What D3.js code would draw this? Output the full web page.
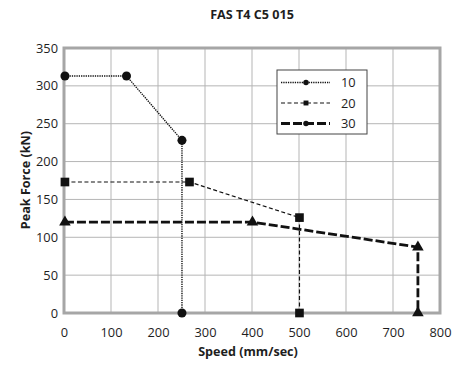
<!DOCTYPE html>
<html>
<head>
<meta charset="utf-8">
<script src="https://cdn.jsdelivr.net/npm/d3@7"></script>
<style>
body { margin: 0; background: #fff; }
text { font-family: "Open Sans", "Noto Sans", sans-serif; fill: #1e1e1e; }
</style>
</head>
<body>
<svg width="468" height="368"></svg>
<script>
// values
const xTicks = [0, 100, 200, 300, 400, 500, 600, 700, 800];
const yTicks = [0, 50, 100, 150, 200, 250, 300, 350];

const speed10 = [2, 133, 251, 251];
const force10 = [313, 313, 228, 0];
const speed20 = [2, 267, 501, 501];
const force20 = [173, 173, 126, 0];
const speed30 = [2, 401, 753, 753];
const force30 = [120, 120, 87, 0];

const seriesNames = ["10", "20", "30"];

const width = 468, height = 368;
const margin = {top: 48, right: 28, bottom: 55, left: 64};

var svg = d3.select("svg");

var x = d3.scaleLinear().domain([0, 800]).range([margin.left, width - margin.right]);
var y = d3.scaleLinear().domain([0, 350]).range([height - margin.bottom, margin.top]);

// grid
svg.append("g")
    .selectAll("line.vg")
    .data(xTicks.slice(1, -1))
    .enter()
    .append("line")
    .attr("x1", d => x(d)).attr("x2", d => x(d))
    .attr("y1", y(0)).attr("y2", y(350))
    .style("stroke", "#b5b5b5").style("stroke-width", 1);

svg.append("g")
    .selectAll("line.hg")
    .data(yTicks.slice(1, -1))
    .enter()
    .append("line")
    .attr("x1", x(0)).attr("x2", x(800))
    .attr("y1", d => y(d)).attr("y2", d => y(d))
    .style("stroke", "#b5b5b5").style("stroke-width", 1);

// frame
svg.append("rect")
    .attr("x", x(0)).attr("y", y(350))
    .attr("width", x(800) - x(0)).attr("height", y(0) - y(350))
    .style("fill", "none").style("stroke", "#a6a6a6").style("stroke-width", 3);

// axes (labels only)
var xAxis = svg.append("g")
    .attr("transform", "translate(0," + (y(0) + 11) + ")")
    .call(d3.axisBottom(x).tickValues(xTicks).tickSize(0).tickPadding(4));
var yAxis = svg.append("g")
    .attr("transform", "translate(" + (x(0) - 6) + ",0)")
    .call(d3.axisLeft(y).tickValues(yTicks).tickSize(0).tickPadding(0));
[xAxis, yAxis].forEach(function(a) {
    a.select(".domain").remove();
    a.selectAll("text").style("font-size", "12.8px").style("fill", "#1e1e1e");
});

// series
const series = [
    {name: seriesNames[0], xs: speed10, ys: force10, dash: "1.3,1", w: 1.4, shape: d3.symbolCircle, size: 64},
    {name: seriesNames[1], xs: speed20, ys: force20, dash: "4,2.5", w: 1.2, shape: d3.symbolSquare, size: 75},
    {name: seriesNames[2], xs: speed30, ys: force30, dash: "9,3", w: 2.8, shape: d3.symbolTriangle, size: 58}
];

var line = d3.line().x(d => x(d[0])).y(d => y(d[1]));

series.forEach(function(s) {
    let pts = s.xs.map((v, i) => [v, s.ys[i]]);
    svg.append("path")
        .datum(pts)
        .attr("d", line)
        .style("fill", "none")
        .style("stroke", "#111")
        .style("stroke-width", s.w)
        .style("stroke-dasharray", s.dash);
    svg.append("g")
        .selectAll("path")
        .data(pts)
        .enter()
        .append("path")
        .attr("transform", d => "translate(" + x(d[0]) + "," + y(d[1]) + ")")
        .attr("d", d3.symbol().type(s.shape).size(s.size))
        .style("fill", "#111");
});

// legend
var lg = svg.append("g").attr("transform", "translate(277,70)");
lg.append("rect")
    .attr("width", 90).attr("height", 64)
    .style("fill", "#fff").style("stroke", "#444").style("stroke-width", 1);
series.forEach(function(s, i) {
    let ly = 12.5 + i * 20.5;
    lg.append("line")
        .attr("x1", 4).attr("x2", 53).attr("y1", ly).attr("y2", ly)
        .style("stroke", "#111")
        .style("stroke-width", s.w)
        .style("stroke-dasharray", s.dash);
    lg.append("path")
        .attr("transform", "translate(29," + ly + ")")
        .attr("d", d3.symbol().type(i == 1 ? d3.symbolSquare : d3.symbolCircle).size(24))
        .style("fill", "#111");
    lg.append("text")
        .attr("x", 64).attr("y", ly + 4.5)
        .style("font-size", "12.8px")
        .text(s.name);
});

// titles
svg.append("text")
    .attr("x", 252).attr("y", 19)
    .attr("text-anchor", "middle")
    .style("font-size", "12.6px").style("font-weight", "bold")
    .text("FAS T4 C5 015");

svg.append("text")
    .attr("x", 248).attr("y", 356)
    .attr("text-anchor", "middle")
    .style("font-size", "12.6px").style("font-weight", "bold")
    .text("Speed (mm/sec)");

svg.append("text")
    .attr("transform", "translate(30,180) rotate(-90)")
    .attr("text-anchor", "middle")
    .style("font-size", "12.6px").style("font-weight", "bold")
    .text("Peak Force (kN)");
</script>
</body>
</html>
